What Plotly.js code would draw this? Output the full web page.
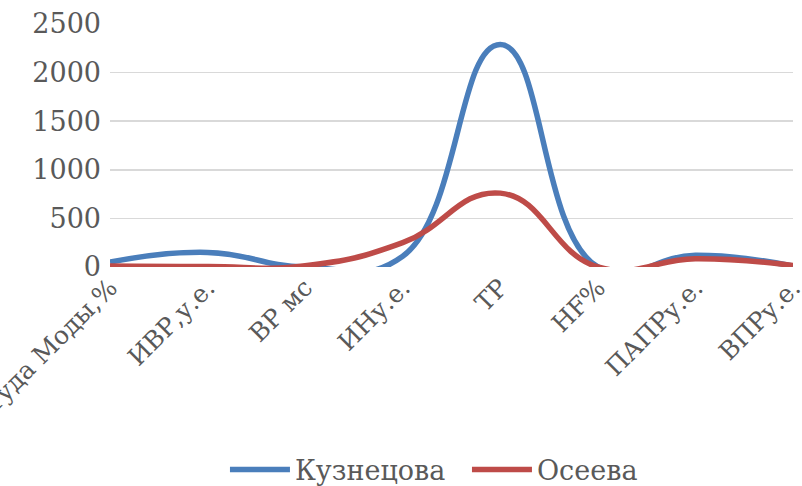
<!DOCTYPE html>
<html>
<head>
<meta charset="utf-8">
<script src="https://cdn.plot.ly/plotly-3.0.1.min.js"></script>
<style>html,body{margin:0;padding:0;background:#fff;}#chart{width:802px;height:486px;}</style>
</head>
<body>
<div id="chart"></div>
<script>
const categories = ["Амплитуда Моды,%", "ИВР,у.е.", "ВР мс", "ИНу.е.", "ТР", "НF%", "ПАПРу.е.", "ВПРу.е."];
const kuznetsova = [50, 150, 0, 110, 2290, 0, 120, 10];
const oseeva = [10, 5, 12, 250, 760, 0, 85, 15];
const seriesNames = ["Кузнецова", "Осеева"];
const yTicks = [0, 500, 1000, 1500, 2000, 2500];

const font = "'DejaVu Serif', 'Liberation Serif', serif";
const traces = [
  {x: categories, y: kuznetsova, name: seriesNames[0], type: 'scatter', mode: 'lines',
   line: {color: '#4a7ebb', width: 5.5, shape: 'spline', smoothing: 1.3}},
  {x: categories, y: oseeva, name: seriesNames[1], type: 'scatter', mode: 'lines',
   line: {color: '#be4b48', width: 5.5, shape: 'spline', smoothing: 1.3}}
];
const layout = {
  width: 802, height: 486,
  margin: {l: 110, r: 9, t: 24, b: 219},
  paper_bgcolor: '#fff', plot_bgcolor: '#fff',
  font: {family: font, color: '#595959', size: 26},
  showlegend: true,
  legend: {orientation: 'h', x: 0.2805, xanchor: 'left', xref: 'container',
    y: 0.033, yanchor: 'middle', yref: 'container',
    font: {family: font, size: 27, color: '#595959'}, itemwidth: 60,
    entrywidth: 167, entrywidthmode: 'pixels'},
  xaxis: {type: 'category', range: [0, 7], showgrid: false, zeroline: false, showline: false,
    tickangle: -45, ticks: '', automargin: false, tickfont: {family: font, size: 25, color: '#595959'}},
  yaxis: {range: [0, 2500], tickvals: yTicks, showgrid: true, gridcolor: '#d9d9d9', gridwidth: 1.5,
    zeroline: false, showline: false, ticks: '', automargin: false, ticklabelstandoff: 8,
    tickfont: {family: font, size: 27, color: '#595959'}}
};
Plotly.newPlot('chart', traces, layout, {displayModeBar: false, staticPlot: true});
</script>
</body>
</html>
